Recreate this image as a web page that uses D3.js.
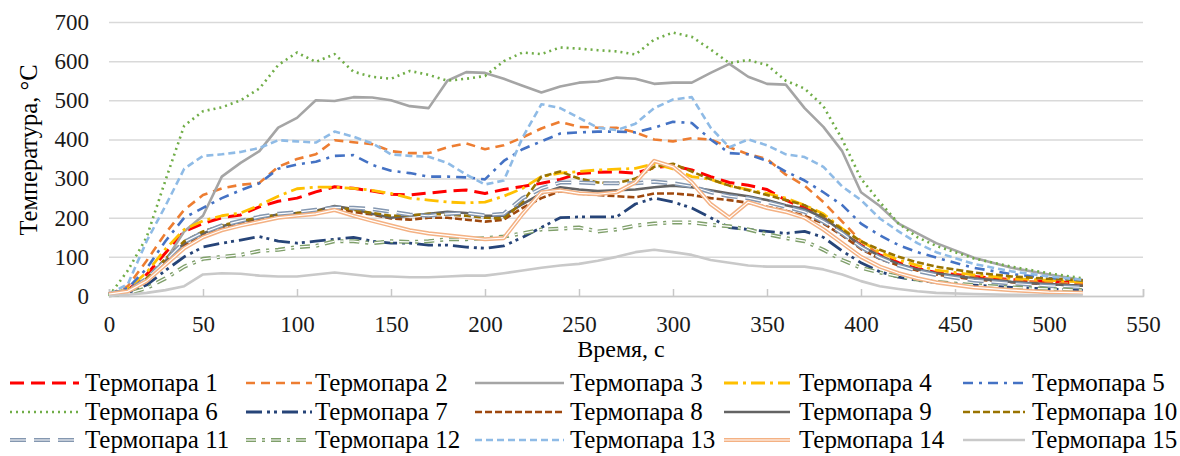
<!DOCTYPE html>
<html>
<head>
<meta charset="utf-8">
<script src="https://cdn.jsdelivr.net/npm/d3@7"></script>
<style>
  body { margin: 0; background: #fff; }
  text { font-family: "Liberation Serif", "Times New Roman", serif; }
</style>
</head>
<body>
<script>
// time, s
var time = [0,10,20,30,40,50,60,70,80,90,100,110,120,130,140,150,160,170,180,190,200,210,220,230,240,250,260,270,280,290,300,310,320,330,340,350,360,370,380,390,400,410,420,430,440,460,480,500,518];

// temperatures, °C
var tp1  = [5,15,55,110,165,185,200,207,228,242,250,266,279,275,268,260,258,263,268,271,262,272,280,288,298,313,316,317,314,328,333,322,305,290,283,272,245,225,200,162,130,105,85,70,60,50,42,37,33];
var tp2  = [5,25,90,160,220,258,275,284,289,330,350,362,398,393,388,370,365,365,380,390,375,385,405,428,445,432,430,430,418,400,395,403,400,380,362,350,310,282,240,190,140,105,80,66,57,47,40,35,30];
var tp3  = [5,12,40,90,165,205,305,340,370,430,455,500,498,508,507,500,485,480,550,572,570,555,537,520,535,545,548,558,555,542,545,545,570,593,560,542,540,480,432,370,265,230,185,160,135,98,72,55,41];
var tp4  = [5,18,60,120,170,192,205,212,232,255,274,278,278,275,270,262,250,245,240,238,240,255,275,305,314,318,322,324,326,338,325,305,298,282,272,262,250,232,210,172,140,112,92,78,66,54,45,40,36];
var tp5  = [5,20,70,140,200,225,250,270,288,325,336,343,358,360,335,320,314,305,305,303,298,345,375,395,415,418,420,420,418,430,445,442,400,365,362,345,318,295,265,232,185,155,130,112,98,72,56,46,40];
var tp6  = [0,65,150,295,435,472,482,500,530,590,622,598,618,573,560,555,575,565,550,555,562,600,622,618,635,632,628,625,617,655,673,662,630,595,603,590,550,530,485,400,300,240,185,150,128,96,75,58,45];
var tp7  = [3,8,28,65,100,125,135,143,152,140,135,140,145,150,140,135,135,130,130,125,122,128,150,175,200,202,202,202,235,250,240,225,200,175,170,165,160,165,150,115,85,62,48,40,35,28,22,18,15];
var tp8  = [5,12,40,85,130,155,172,185,195,205,210,213,225,215,208,198,195,200,200,195,190,195,225,250,268,262,258,255,252,262,262,258,250,245,238,228,218,205,185,155,120,95,78,65,55,42,35,30,26];
var tp9  = [5,12,42,88,135,160,178,190,200,208,212,218,230,222,210,200,205,210,215,212,205,205,235,262,278,272,268,270,272,278,282,278,270,262,255,245,232,222,200,165,128,102,82,68,58,45,36,30,26];
var tp10 = [5,15,45,95,140,165,180,192,200,208,212,215,228,220,212,205,206,210,208,205,200,198,240,305,318,300,290,288,300,330,338,318,298,282,270,258,245,232,205,170,140,118,100,86,75,60,50,44,40];
var tp11 = [5,13,44,90,138,162,180,192,202,210,214,220,226,225,222,215,208,205,210,212,206,210,250,275,290,290,288,288,288,292,288,280,265,255,250,240,228,215,190,160,125,98,78,64,54,40,32,26,22];
var tp12 = [2,6,20,45,75,95,100,105,115,118,125,128,140,140,135,140,138,140,145,145,148,152,160,170,172,175,165,170,180,185,188,188,182,178,170,158,148,140,118,92,72,60,50,42,36,28,22,18,15];
var tp13 = [5,30,140,230,325,358,362,368,378,398,395,392,420,407,390,362,358,356,340,310,285,295,405,490,480,455,430,424,440,480,502,508,430,380,400,385,362,355,330,280,245,198,165,135,112,82,63,50,41];
var tp14 = [5,12,38,80,122,150,168,180,190,200,205,210,220,205,192,180,168,160,155,150,145,148,210,265,270,262,260,265,290,345,330,290,235,200,240,225,215,200,170,135,100,75,58,45,35,22,15,10,8];
var tp15 = [0,3,8,15,25,55,58,57,52,50,50,55,60,55,50,50,48,48,50,52,52,58,65,72,78,82,90,100,112,118,112,105,92,85,78,75,75,75,68,55,38,25,18,12,8,5,3,2,2];

var xTicks = [0,50,100,150,200,250,300,350,400,450,500,550];
var yTicks = [0,100,200,300,400,500,600,700];

var names = ["Термопара 1","Термопара 2","Термопара 3","Термопара 4","Термопара 5",
             "Термопара 6","Термопара 7","Термопара 8","Термопара 9","Термопара 10",
             "Термопара 11","Термопара 12","Термопара 13","Термопара 14","Термопара 15"];
var values = [tp1,tp2,tp3,tp4,tp5,tp6,tp7,tp8,tp9,tp10,tp11,tp12,tp13,tp14,tp15];

// line styles
var colors = ["#ff0000","#ed7d31","#a5a5a5","#ffc000","#4472c4",
              "#70ad47","#264478","#9e480e","#636363","#997300",
              "#8497b0","#7f9f6a","#8fbbe6","#f4b183","#c9c9c9"];
var dashes = ["14,7","9,6",null,"14,5,3,5","10,6,3,6",
              "2,4","16,5,3,4,3,5","7,3",null,"7,3",
              "16,8","10,6,3,6","7,4",null,null];
var widths = [3,2.6,2.6,2.8,2.6, 2.6,2.8,2.6,2.6,2.6, 4.2,4,2.6,4.2,2.6];
var double = [false,false,false,false,false, false,false,false,false,false, true,true,false,true,false];

var W = 1180, H = 456;
var pL = 109, pR = 1143, pT = 22, pB = 296;

var svg = d3.select("body").append("svg")
    .attr("width", W)
    .attr("height", H);

var x = d3.scaleLinear().domain([0, 550]).range([pL, pR]);
var y = d3.scaleLinear().domain([0, 700]).range([pB, pT]);

// gridlines + y labels
var yAxis = svg.append("g")
    .attr("transform", "translate(" + pL + ",0)")
    .call(d3.axisLeft(y).tickValues(yTicks).tickSize(-(pR - pL)).tickPadding(20));
yAxis.select(".domain").remove();
yAxis.selectAll("line").attr("stroke", "#d9d9d9").attr("stroke-width", 1.5);
yAxis.selectAll("text").attr("font-size", 23).attr("fill", "#1a1a1a")
    .attr("font-family", "Liberation Serif, Times New Roman, serif");

// x axis (ticks point up)
var xAxis = svg.append("g")
    .attr("transform", "translate(0," + pB + ")")
    .call(d3.axisBottom(x).tickValues(xTicks).tickSizeInner(-7).tickSizeOuter(-7).tickPadding(20));
xAxis.select(".domain").attr("stroke", "#c8c8c8").attr("stroke-width", 1.5);
xAxis.selectAll("line").attr("stroke", "#c8c8c8").attr("stroke-width", 1.5);
xAxis.selectAll("text").attr("font-size", 23).attr("fill", "#1a1a1a")
    .attr("font-family", "Liberation Serif, Times New Roman, serif");

// axis titles
svg.append("text")
    .attr("x", 621)
    .attr("y", 357)
    .attr("text-anchor", "middle")
    .attr("font-size", 24)
    .text("Время, с");

svg.append("text")
    .attr("transform", "translate(37,150) rotate(-90)")
    .attr("text-anchor", "middle")
    .attr("font-size", 24.5)
    .text("Температура, °С");

var line = d3.line()
    .x(function(d, i) { return x(time[i]); })
    .y(function(d) { return y(d); });

values.forEach(function(v, k) {
    svg.append("path")
        .attr("d", line(v))
        .attr("fill", "none")
        .attr("stroke", colors[k])
        .attr("stroke-width", widths[k])
        .attr("stroke-dasharray", dashes[k])
        .attr("stroke-linejoin", "round");
    if (double[k]) {
        svg.append("path")
            .attr("d", line(v))
            .attr("fill", "none")
            .attr("stroke", "#fff")
            .attr("stroke-width", 1.2)
            .attr("stroke-dasharray", dashes[k]);
    }
});

// legend
var lineX1 = [10, 246, 475, 724, 963];
var lineX2 = [79, 312, 564, 790, 1025];
var textX  = [85, 315, 570, 799, 1032];
var rowY = [383, 412, 440];

names.forEach(function(n, k) {
    var c = k % 5, cy = rowY[Math.floor(k / 5)];
    var g = svg.append("g");
    g.append("line")
        .attr("x1", lineX1[c]).attr("x2", lineX2[c])
        .attr("y1", cy).attr("y2", cy)
        .attr("stroke", colors[k])
        .attr("stroke-width", widths[k])
        .attr("stroke-dasharray", dashes[k]);
    if (double[k]) {
        g.append("line")
            .attr("x1", lineX1[c]).attr("x2", lineX2[c])
            .attr("y1", cy).attr("y2", cy)
            .attr("stroke", "#fff")
            .attr("stroke-width", 1.2)
            .attr("stroke-dasharray", dashes[k]);
    }
    g.append("text")
        .attr("x", textX[c])
        .attr("y", cy + 8)
        .attr("font-size", 25)
        .text(n);
});
</script>
</body>
</html>
